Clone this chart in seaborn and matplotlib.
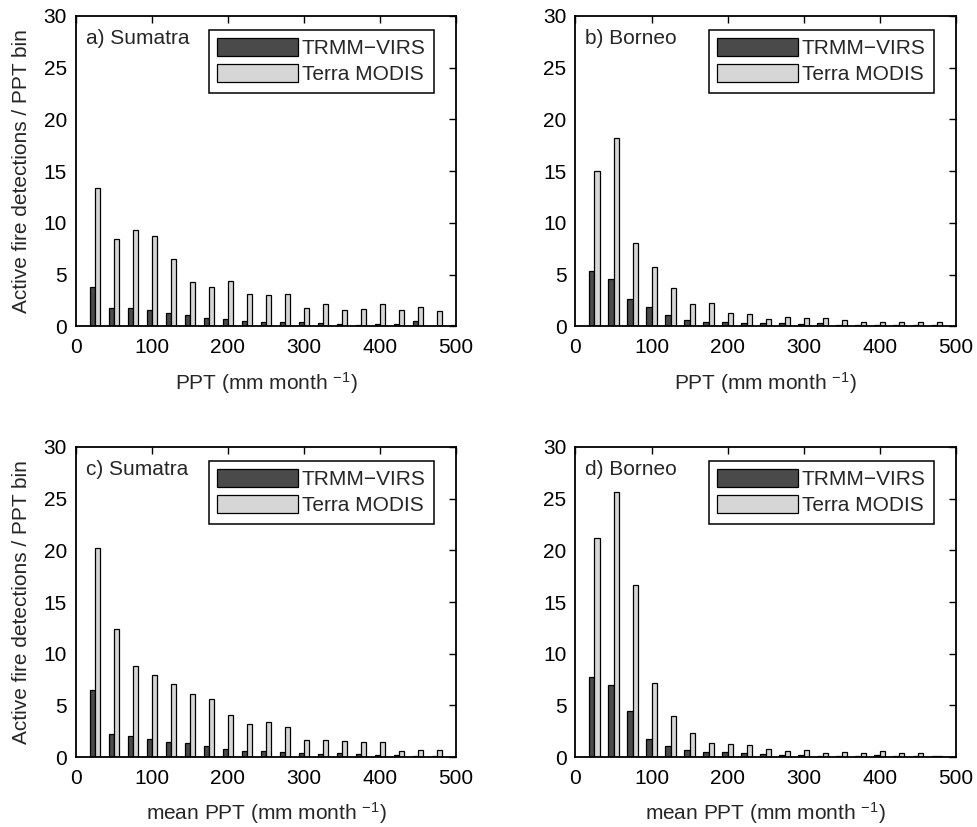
import numpy as np
import pandas as pd
import seaborn as sns
import matplotlib.pyplot as plt
from matplotlib.patches import Patch

sns.set_theme(style='white')
plt.rcParams['font.family'] = ['Liberation Sans', 'DejaVu Sans']
plt.rcParams['mathtext.fontset'] = 'custom'
plt.rcParams['mathtext.rm'] = 'Liberation Sans'
plt.rcParams['mathtext.it'] = 'Liberation Sans'

# centros de los bins de precipitacion (mm/mes)
ppt = [25, 50, 75, 100, 125, 150, 175, 200, 225, 250,
       275, 300, 325, 350, 375, 400, 425, 450, 475, 500]

# a) Sumatra, PPT
a_trmm = [3.8, 1.76, 1.82, 1.56, 1.27, 1.1, 0.81, 0.75, 0.55, 0.46,
          0.42, 0.39, 0.36, 0.23, 0.16, 0.23, 0.26, 0.55, 0.03, 0.16]
a_modis = [13.36, 8.47, 9.35, 8.7, 6.48, 4.3, 3.81, 4.36, 3.13, 3.03,
           3.13, 1.82, 2.18, 1.63, 1.73, 2.18, 1.56, 1.86, 1.53, 0.0]
# b) Borneo, PPT
b_trmm = [5.32, 4.61, 2.61, 1.9, 1.1, 0.65, 0.45, 0.39, 0.29, 0.35,
          0.29, 0.26, 0.29, 0.16, 0.16, 0.16, 0.16, 0.16, 0.13, 0.05]
b_modis = [15.0, 18.23, 8.03, 5.74, 3.71, 2.13, 2.26, 1.32, 1.19, 0.77,
           0.87, 0.81, 0.84, 0.58, 0.48, 0.48, 0.42, 0.48, 0.42, 0.0]
# c) Sumatra, mean PPT
c_trmm = [6.45, 2.19, 2.03, 1.74, 1.5, 1.33, 1.1, 0.81, 0.58, 0.55,
          0.45, 0.39, 0.32, 0.35, 0.26, 0.16, 0.16, 0.1, 0.1, 0.0]
c_modis = [20.2, 12.42, 8.77, 7.94, 7.1, 6.13, 5.58, 4.1, 3.17, 3.35,
           2.88, 1.63, 1.63, 1.53, 1.46, 1.46, 0.61, 0.71, 0.68, 0.0]
# d) Borneo, mean PPT
d_trmm = [7.74, 7.0, 4.42, 1.72, 1.1, 0.65, 0.45, 0.45, 0.35, 0.29,
          0.23, 0.23, 0.13, 0.13, 0.13, 0.16, 0.1, 0.06, 0.06, 0.05]
d_modis = [21.2, 25.6, 16.6, 7.16, 3.95, 2.35, 1.35, 1.29, 1.16, 0.77,
           0.55, 0.71, 0.39, 0.52, 0.35, 0.55, 0.35, 0.39, 0.13, 0.0]

series = ['TRMM\u2212VIRS', 'Terra MODIS']
colores = {series[0]: '#4a4a4a', series[1]: '#d6d6d6'}

paneles = [
    ('a) Sumatra', a_trmm, a_modis, 'PPT (mm month $^{-1}$)'),
    ('b) Borneo', b_trmm, b_modis, 'PPT (mm month $^{-1}$)'),
    ('c) Sumatra', c_trmm, c_modis, 'mean PPT (mm month $^{-1}$)'),
    ('d) Borneo', d_trmm, d_modis, 'mean PPT (mm month $^{-1}$)'),
]

fig = plt.figure(figsize=(9.77, 8.27), dpi=100)
posiciones = [
    [0.0778, 0.6052, 0.3889, 0.3755],
    [0.5890, 0.6052, 0.3895, 0.3755],
    [0.0778, 0.0846, 0.3889, 0.3749],
    [0.5890, 0.0846, 0.3895, 0.3749],
]

fs = 15
for i, (titulo, trmm, modis, xlab) in enumerate(paneles):
    ax = fig.add_axes(posiciones[i])
    df = pd.DataFrame({'PPT': ppt * 2,
                       'valor': trmm + modis,
                       'sensor': [series[0]] * len(ppt) + [series[1]] * len(ppt)})
    sns.barplot(data=df, x='PPT', y='valor', hue='sensor', hue_order=series,
                palette=colores, native_scale=True, width=0.571, dodge=True,
                errorbar=None, edgecolor='black', linewidth=0.9, saturation=1,
                legend=False, ax=ax)
    ax.set_xlim(0, 500)
    ax.set_ylim(0, 30)
    ax.set_xticks([0, 100, 200, 300, 400, 500])
    ax.set_yticks([0, 5, 10, 15, 20, 25, 30])
    ax.tick_params(direction='in', length=5, width=1, top=True, right=True,
                   labelsize=fs, colors='black')
    ax.tick_params(axis='x', pad=8.5)
    ax.tick_params(axis='y', pad=6.5)
    for s in ax.spines.values():
        s.set_linewidth(1.3)
        s.set_color('black')
    ax.set_xlabel(xlab, fontsize=fs, labelpad=9)
    if i % 2 == 0:
        ax.set_ylabel('Active fire detections / PPT bin', fontsize=fs, labelpad=9)
    else:
        ax.set_ylabel('')
    ax.text(0.026, 0.929, titulo, transform=ax.transAxes, fontsize=fs,
            ha='left', va='center')
    handles = [Patch(facecolor=colores[s], edgecolor='black', linewidth=0.9) for s in series]
    leg = ax.legend(handles, series, loc='upper right', bbox_to_anchor=(0.942, 0.955),
                    borderaxespad=0, fontsize=fs, handlelength=3.85, handleheight=0.9,
                    handletextpad=0.2, labelspacing=0.3, borderpad=0.4,
                    fancybox=False, framealpha=1, edgecolor='black')
    leg.get_frame().set_linewidth(1.1)

fig.savefig('out.png', dpi=100)
